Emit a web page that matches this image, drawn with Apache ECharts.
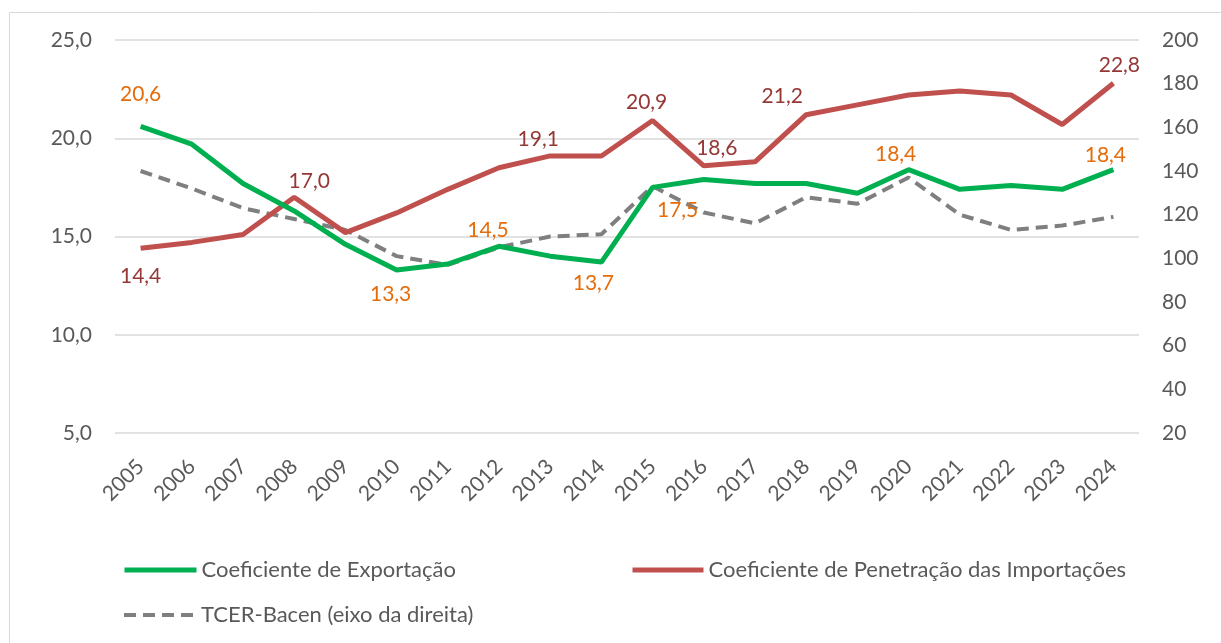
<!DOCTYPE html>
<html>
<head>
<meta charset="utf-8">
<script src="https://cdn.jsdelivr.net/npm/echarts@6/dist/echarts.min.js"></script>
<style>
  html, body { margin: 0; padding: 0; background: #fff; }
  #chart { width: 1221px; height: 643px; }
</style>
</head>
<body>
<div id="chart"></div>
<script>
const years = ['2005', '2006', '2007', '2008', '2009', '2010', '2011', '2012', '2013', '2014',
  '2015', '2016', '2017', '2018', '2019', '2020', '2021', '2022', '2023', '2024']
const exportCoef = [20.6, 19.7, 17.7, 16.3, 14.6, 13.3, 13.6, 14.5, 14.0, 13.7,
  17.5, 17.9, 17.7, 17.7, 17.2, 18.4, 17.4, 17.6, 17.4, 18.4]
const importCoef = [14.4, 14.7, 15.1, 17.0, 15.2, 16.2, 17.4, 18.5, 19.1, 19.1,
  20.9, 18.6, 18.8, 21.2, 21.7, 22.2, 22.4, 22.2, 20.7, 22.8]
const tcer = [140, 132, 123, 118, 113, 101, 97, 105, 110, 111,
  133, 121, 116, 128, 125, 137, 120, 113, 115, 119]

const names = ['Coeficiente de Exportação', 'Coeficiente de Penetração das Importações', 'TCER-Bacen (eixo da direita)']

// which points carry a label, and where it sits relative to the point
const exportLabels = { 0: [0, -32], 5: [-6, 24], 7: [-11, -16], 9: [-8, 21], 10: [25, 23], 15: [-13, -15], 19: [-8, -14] }
const importLabels = { 0: [0, 28], 3: [15, -16], 8: [-12, -17], 10: [-6, -18], 11: [13, -18], 13: [-24, -18], 19: [6, -18] }

const FONT = 'Lato'
const fmt = v => v.toFixed(1).replace('.', ',')

function withLabels(values, labels, color) {
  return values.map((v, i) => {
    if (!(i in labels)) return v
    return {
      value: v,
      label: {
        show: true,
        position: 'inside',
        offset: labels[i],
        color: color,
        fontFamily: FONT,
        fontSize: 21,
        formatter: p => fmt(p.value),
      },
    }
  })
}

const chart = echarts.init(document.getElementById('chart'))

const legendBase = {
  itemHeight: 14,
  itemGap: 0,
  padding: 0,
  textStyle: { color: '#595959', fontFamily: FONT, fontSize: 22, padding: [0, 0, 0, 0] },
  selectedMode: false,
  itemStyle: { opacity: 0 },
}

chart.setOption({
  animation: false,
  graphic: [{
    type: 'rect',
    shape: { x: 9.5, y: 12.5, width: 1400, height: 800 },
    style: { fill: 'none', stroke: '#D9D9D9', lineWidth: 1 },
    silent: true,
  }],
  grid: { left: 115, right: 82, top: 40, bottom: 210 },
  legend: [
    Object.assign({}, legendBase, { data: [names[0]], left: 122, top: 559, itemWidth: 72, lineStyle: { width: 5 } }),
    Object.assign({}, legendBase, { data: [names[1]], left: 630, top: 559, itemWidth: 71, lineStyle: { width: 5 } }),
    Object.assign({}, legendBase, { data: [names[2]], left: 122, top: 604, itemWidth: 72, lineStyle: { width: 4 } }),
  ],
  xAxis: {
    type: 'category',
    data: years,
    boundaryGap: true,
    axisLine: { show: false },
    axisTick: { show: false },
    axisLabel: { rotate: 45, margin: 30, color: '#595959', fontFamily: FONT, fontSize: 21 },
  },
  yAxis: [
    {
      type: 'value',
      min: 5,
      max: 25,
      interval: 5,
      axisLine: { show: false },
      axisTick: { show: false },
      splitLine: { lineStyle: { color: '#D9D9D9', width: 1.5 } },
      axisLabel: { margin: 23, color: '#595959', fontFamily: FONT, fontSize: 21, formatter: v => fmt(v) },
    },
    {
      type: 'value',
      min: 20,
      max: 200,
      interval: 20,
      axisLine: { show: false },
      axisTick: { show: false },
      splitLine: { show: false },
      axisLabel: { margin: 23, color: '#595959', fontFamily: FONT, fontSize: 21 },
    },
  ],
  series: [
    {
      name: names[2],
      type: 'line',
      yAxisIndex: 1,
      data: tcer,
      symbol: 'circle',
      symbolSize: 1,
      itemStyle: { color: 'rgba(0,0,0,0)' },
      lineStyle: { color: '#7F7F7F', width: 4, type: [12, 7] },
      z: 1,
    },
    {
      name: names[1],
      type: 'line',
      data: withLabels(importCoef, importLabels, '#953735'),
      symbol: 'circle',
      symbolSize: 1,
      itemStyle: { color: 'rgba(0,0,0,0)' },
      lineStyle: { color: '#C0504D', width: 5 },
      z: 2,
    },
    {
      name: names[0],
      type: 'line',
      data: withLabels(exportCoef, exportLabels, '#E46C0A'),
      symbol: 'circle',
      symbolSize: 1,
      itemStyle: { color: 'rgba(0,0,0,0)' },
      lineStyle: { color: '#00B050', width: 5 },
      z: 3,
    },
  ],
})
</script>
</body>
</html>
